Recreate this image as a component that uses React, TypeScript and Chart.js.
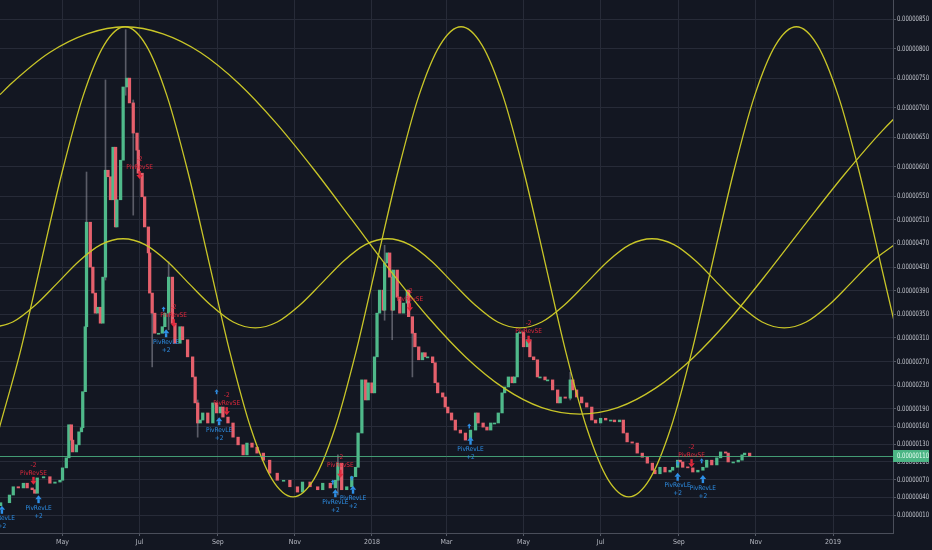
import React, { useEffect, useRef } from 'react';
import { Chart, registerables } from 'chart.js';

Chart.register(...registerables);

// x values are days counted from 2017-03-01, y values are in satoshi (1e-8)
const X_TICK_DAYS = [61, 122, 184, 245, 306, 365, 426, 487, 549, 610, 671];
const X_TICK_LABELS = ['May', 'Jul', 'Sep', 'Nov', '2018', 'Mar', 'May', 'Jul', 'Sep', 'Nov', '2019'];
const Y_TICKS = [10, 40, 70, 100, 130, 160, 190, 230, 270, 310, 350, 390, 430, 470, 510, 550, 600, 650, 700, 750, 800, 850];

const FIRST_OPEN = 26;
const CANDLE_DAYS = [
  12, 19, 22, 26, 30, 33, 37, 39, 41, 46, 51, 55, 59, 61, 64, 66, 68, 69, 72, 74, 76, 77, 79, 80, 83, 85, 87, 89, 91, 93,
  95, 97, 99, 101, 103, 104, 107, 109, 112, 114, 117, 120, 121, 124, 126, 129, 130, 132, 134, 137, 140, 142, 145, 148, 150, 154, 156, 160, 164, 166,
  168, 170, 172, 176, 180, 183, 186, 188, 192, 196, 200, 204, 207, 211, 215, 220, 225, 231, 236, 241, 247, 251, 257, 263, 267, 273, 277, 279, 282, 286,
  290, 293, 295, 298, 301, 303, 306, 308, 310, 312, 315, 316, 318, 320, 322, 323, 326, 328, 331, 334, 335, 338, 340, 343, 346, 348, 350, 354, 356, 358,
  362, 364, 366, 369, 372, 376, 380, 384, 388, 390, 394, 397, 400, 403, 406, 409, 411, 414, 417, 419, 421, 423, 426, 429, 431, 434, 437, 439, 443, 445,
  449, 453, 455, 459, 463, 465, 468, 472, 476, 480, 483, 487, 491, 495, 498, 502, 505, 508, 512, 516, 520, 524, 528, 530, 534, 538, 542, 544, 548, 550,
  552, 556, 560, 564, 568, 571, 575, 579, 582, 586, 588, 592, 596, 599, 601, 605,
];
const CANDLE_CLOSE = [
  31, 44, 58, 56, 64, 56, 53, 47, 73, 75, 64, 66, 69, 90, 107, 163, 137, 117, 129, 151, 158, 219, 329, 506, 430, 386, 352, 362, 335, 413,
  594, 583, 544, 633, 498, 544, 611, 735, 750, 708, 657, 628, 589, 549, 498, 454, 386, 352, 318, 318, 329, 352, 413, 335, 301, 329, 307, 278, 244, 200,
  166, 171, 183, 166, 200, 183, 193, 176, 166, 142, 129, 112, 132, 125, 115, 103, 81, 69, 69, 58, 49, 66, 58, 53, 64, 56, 69, 98, 53, 58,
  75, 91, 149, 239, 205, 234, 217, 278, 352, 391, 357, 437, 454, 413, 357, 425, 379, 352, 369, 391, 346, 318, 295, 273, 285, 278, 278, 268, 234, 217,
  210, 193, 183, 171, 154, 149, 137, 154, 183, 166, 159, 154, 166, 166, 183, 217, 227, 244, 234, 244, 318, 320, 295, 307, 278, 273, 244, 244, 239, 239,
  222, 200, 210, 208, 239, 222, 210, 200, 193, 171, 166, 174, 171, 171, 168, 171, 149, 134, 132, 115, 108, 98, 86, 80, 91, 83, 86, 91, 103, 100,
  91, 90, 83, 86, 91, 103, 95, 107, 117, 115, 100, 100, 103, 112, 115, 110,
];

// extra wicks: day, high, low
const WICK_DAYS = [80, 95, 111, 117, 132, 145, 168, 279, 316, 322, 338, 463];
const WICK_HIGH = [591, 747, 832, 713, 374, 439, 205, 112, 467, 425, 340, 252];
const WICK_LOW = [425, 408, 721, 518, 261, 324, 142, 44, 340, 307, 244, 205];

// cycle curves
const CYCLE1_DAYS = [11.5, 20.5, 50.5, 80.5, 110.5, 140.5, 170.5, 200.5, 230.5, 260.5, 290.5, 320.5, 350.5, 380.5, 410.5, 440.5, 470.5, 500.5, 530.5, 560.5, 590.5, 620.5, 650.5, 680.5, 710.5, 740.5];
const CYCLE1_VALS = [722, 741, 793, 825, 837, 825, 793, 741, 673, 594, 509, 424, 345, 277, 225, 192, 181, 192, 225, 277, 345, 424, 507, 588, 662, 725];
const CYCLE2_DAYS = [10.9, 27.5, 44.1, 60.7, 77.3, 93.9, 110.5, 127.1, 143.7, 160.3, 176.9, 193.5, 210.1, 226.8, 243.5, 260.1, 276.7, 293.3, 309.9, 326.5, 343.1, 359.9, 376.5, 393.1, 409.7, 426.3, 442.9, 459.5, 476.1, 492.7, 509.3, 525.9, 542.5, 559.1, 575.7, 592.3, 608.9, 625.5, 642, 658.6, 675.2, 691.8, 708.4, 725];
const CYCLE2_VALS = [157, 286, 439, 591, 720, 806, 837, 806, 720, 591, 439, 286, 157, 71, 41, 71, 157, 286, 439, 591, 720, 806, 837, 806, 720, 591, 439, 286, 157, 71, 41, 71, 157, 286, 439, 591, 720, 806, 837, 806, 720, 591, 439, 286];
const CYCLE3_DAYS = [4.2, 21.6, 39.1, 56.5, 74, 91.4, 108.9, 126.3, 143.8, 161.2, 178.7, 196.1, 213.6, 231, 248.5, 265.9, 283.4, 300.8, 318.3, 335.7, 353.2, 370.6, 388.1, 405.5, 423, 440.4, 457.9, 475.3, 492.8, 510.2, 527.7, 545.1, 562.6, 580, 597.5, 614.9, 632.4, 649.8, 667.3, 684.7, 702.2, 719.6];
const CYCLE3_VALS = [327, 337, 365, 402, 440, 468, 478, 468, 440, 402, 365, 337, 327, 337, 365, 402, 440, 468, 478, 468, 440, 402, 365, 337, 327, 337, 365, 402, 440, 468, 478, 468, 440, 402, 365, 337, 327, 337, 365, 402, 440, 468];

// strategy signals
const LONG_DAYS = [13, 42, 143, 185, 277, 291, 384, 548, 568];
const LONG_VALS = [19, 37, 318, 169, 47, 53, 136, 75, 71];
const SHORT_DAYS = [38, 122, 149, 191, 281, 336, 430, 559];
const SHORT_VALS = [68, 586, 335, 186, 80, 362, 307, 98];
const SMALL_DAYS = [141, 183, 275, 290, 383, 548, 567];
const SMALL_VALS = [359, 219, 66, 73, 161, 98, 102];

const LAST_PRICE = 110;

const UP = '#4fb98a';
const DOWN = '#e5606c';
const AXIS_FONT = "'DejaVu Sans Condensed', 'Liberation Sans Narrow', 'Roboto', sans-serif";

const fmt = (v: number) => (v * 1e-8).toFixed(8);

const overlay = {
  id: 'overlay',
  afterDatasetsDraw(chart: any) {
    const { ctx, chartArea: a, scales } = chart;
    const x = scales.x;
    const y = scales.y;
    ctx.save();
    ctx.beginPath();
    ctx.rect(a.left, a.top, a.right - a.left, a.bottom - a.top);
    ctx.clip();
    const py = Math.round(y.getPixelForValue(LAST_PRICE)) + 0.5;
    ctx.strokeStyle = 'rgba(76,180,130,0.85)';
    ctx.lineWidth = 1;
    ctx.beginPath();
    ctx.moveTo(a.left, py);
    ctx.lineTo(a.right, py);
    ctx.stroke();

    ctx.font = `6.5px ${AXIS_FONT}`;
    ctx.textAlign = 'center';
    ctx.textBaseline = 'middle';
    const upArrow = (px: number, p: number, s: number) => {
      ctx.beginPath();
      ctx.moveTo(px, p - s);
      ctx.lineTo(px - s * 0.8, p);
      ctx.lineTo(px + s * 0.8, p);
      ctx.closePath();
      ctx.fill();
      ctx.fillRect(px - s * 0.3, p, s * 0.6, s);
    };
    const downArrow = (px: number, p: number, s: number) => {
      ctx.beginPath();
      ctx.moveTo(px, p + s);
      ctx.lineTo(px - s * 0.8, p);
      ctx.lineTo(px + s * 0.8, p);
      ctx.closePath();
      ctx.fill();
      ctx.fillRect(px - s * 0.3, p - s, s * 0.6, s);
    };
    LONG_DAYS.forEach((d, i) => {
      const px = x.getPixelForValue(d);
      const p = y.getPixelForValue(LONG_VALS[i]);
      ctx.fillStyle = '#2e8fe6';
      upArrow(px, p, 4);
      ctx.fillText('PivRevLE', px, p + 9);
      ctx.fillText('+2', px, p + 17);
    });
    SHORT_DAYS.forEach((d, i) => {
      const px = x.getPixelForValue(d);
      const p = y.getPixelForValue(SHORT_VALS[i]);
      ctx.fillStyle = '#e0283c';
      downArrow(px, p, 4);
      ctx.fillText('PivRevSE', px, p - 8);
      ctx.fillText('-2', px, p - 16);
    });
    ctx.fillStyle = '#2e8fe6';
    SMALL_DAYS.forEach((d, i) => {
      upArrow(x.getPixelForValue(d), y.getPixelForValue(SMALL_VALS[i]), 2.5);
    });
    ctx.restore();
  },
  afterDraw(chart: any) {
    const { ctx, chartArea: a, scales, width } = chart;
    const y = scales.y;
    const drawLabel = (text: string, py: number, color: string) => {
      ctx.save();
      ctx.font = `7.5px ${AXIS_FONT}`;
      ctx.textAlign = 'left';
      ctx.textBaseline = 'middle';
      ctx.fillStyle = color;
      const w = ctx.measureText(text).width;
      ctx.translate(a.right + 4, py);
      ctx.scale(32 / w, 1);
      ctx.fillText(text, 0, 0);
      ctx.restore();
    };
    Y_TICKS.forEach((v) => drawLabel(fmt(v), y.getPixelForValue(v), '#c3c6ce'));
    const py = Math.round(y.getPixelForValue(LAST_PRICE));
    ctx.save();
    ctx.fillStyle = '#4cb585';
    ctx.fillRect(a.right, py - 6, width - a.right - 3, 12);
    ctx.restore();
    drawLabel(fmt(LAST_PRICE), py, '#eafff4');
  },
};

export default function App() {
  const ref = useRef<HTMLCanvasElement | null>(null);

  useEffect(() => {
    document.body.style.margin = '0';
    document.body.style.background = '#131722';
    const canvas = ref.current;
    if (!canvas) return;

    const opens: number[] = [];
    CANDLE_CLOSE.forEach((c, i) => opens.push(i === 0 ? FIRST_OPEN : CANDLE_CLOSE[i - 1]));
    const bodies = CANDLE_DAYS.map((d, i) => ({ x: d, y: [opens[i], CANDLE_CLOSE[i]] }));
    const bodyColors = CANDLE_CLOSE.map((c, i) => (c >= opens[i] ? UP : DOWN));
    const wicks = WICK_DAYS.map((d, i) => ({ x: d, y: [WICK_LOW[i], WICK_HIGH[i]] }));
    const line = (days: number[], vals: number[]) => days.map((d, i) => ({ x: d, y: vals[i] }));
    const cycleStyle = {
      type: 'line' as const,
      borderColor: '#c9c628',
      borderWidth: 1.3,
      pointRadius: 0,
      cubicInterpolationMode: 'monotone' as const,
      fill: false,
      order: 0,
    };
    const gridColor = '#272b38';

    const chart = new Chart(canvas, {
      type: 'bar',
      data: {
        datasets: [
          { ...cycleStyle, data: line(CYCLE1_DAYS, CYCLE1_VALS) },
          { ...cycleStyle, data: line(CYCLE2_DAYS, CYCLE2_VALS) },
          { ...cycleStyle, data: line(CYCLE3_DAYS, CYCLE3_VALS) },
          {
            type: 'bar',
            data: bodies as any,
            backgroundColor: bodyColors,
            barThickness: 2.6,
            minBarLength: 1,
            grouped: false,
            order: 1,
          },
          {
            type: 'bar',
            data: wicks as any,
            backgroundColor: 'rgba(150,150,160,0.55)',
            barThickness: 1,
            grouped: false,
            order: 2,
          },
        ] as any,
      },
      options: {
        responsive: false,
        animation: false,
        devicePixelRatio: 1,
        layout: { padding: 0 },
        plugins: { legend: { display: false }, tooltip: { enabled: false } },
        scales: {
          x: {
            type: 'linear',
            min: 11.5,
            max: 718.5,
            offset: false,
            grid: { color: gridColor, offset: false, tickLength: 3, tickColor: '#555a66' },
            border: { display: true, color: '#4a4e5a' },
            afterBuildTicks: (s: any) => {
              s.ticks = X_TICK_DAYS.map((v) => ({ value: v }));
            },
            afterFit: (s: any) => {
              s.height = 17;
              s.paddingLeft = 0;
              s.paddingRight = 0;
            },
            ticks: {
              autoSkip: false,
              maxRotation: 0,
              padding: 2,
              color: '#b7bac3',
              font: { family: AXIS_FONT, size: 7 },
              callback: (_v: any, i: number) => X_TICK_LABELS[i],
            },
          },
          y: {
            type: 'linear',
            position: 'right',
            min: -20.3,
            max: 882.3,
            grid: { color: gridColor, tickLength: 3, tickColor: '#555a66' },
            border: { display: true, color: '#4a4e5a' },
            afterBuildTicks: (s: any) => {
              s.ticks = Y_TICKS.map((v) => ({ value: v }));
            },
            afterFit: (s: any) => {
              s.width = 39;
              s.paddingTop = 0;
              s.paddingBottom = 0;
            },
            ticks: {
              display: false,
              callback: (v: any) => fmt(Number(v)),
            },
          },
        },
      } as any,
      plugins: [overlay],
    });
    return () => chart.destroy();
  }, []);

  return (
    <div style={{ width: 932, height: 550, background: '#131722' }}>
      <canvas ref={ref} width={932} height={550} style={{ display: 'block' }} />
    </div>
  );
}
